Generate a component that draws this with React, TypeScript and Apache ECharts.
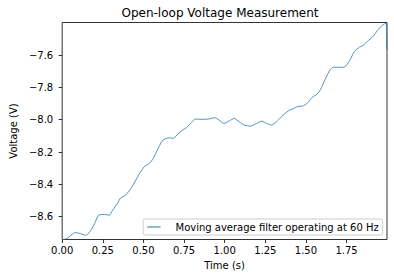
import React, { useEffect, useRef } from "react";
import * as echarts from "echarts";

const times = [
  0.0, 0.03, 0.08, 0.11, 0.144, 0.17, 0.2, 0.224, 0.26, 0.29, 0.31, 0.34, 0.36, 0.39,
  0.43, 0.47, 0.504, 0.536, 0.56, 0.59, 0.62, 0.66, 0.683, 0.716, 0.749, 0.76, 0.79,
  0.82, 0.86, 0.899, 0.939, 0.959, 0.995, 1.029, 1.059, 1.089, 1.119, 1.159, 1.189,
  1.229, 1.259, 1.289, 1.319, 1.359, 1.399, 1.419, 1.449, 1.479, 1.509, 1.539, 1.569,
  1.589, 1.619, 1.649, 1.669, 1.709, 1.739, 1.769, 1.799, 1.829, 1.853, 1.879, 1.909,
  1.939, 1.969, 1.993, 1.998,
];
const volts = [
  -8.742, -8.735, -8.698, -8.704, -8.715, -8.694, -8.642, -8.591, -8.586, -8.591, -8.56,
  -8.518, -8.484, -8.467, -8.415, -8.343, -8.292, -8.271, -8.24, -8.178, -8.126, -8.112,
  -8.116, -8.085, -8.058, -8.054, -8.023, -7.996, -7.998, -7.996, -7.988, -7.998, -8.023,
  -8.007, -7.992, -8.013, -8.033, -8.04, -8.027, -8.009, -8.023, -8.033, -8.013, -7.972,
  -7.941, -7.934, -7.918, -7.916, -7.897, -7.862, -7.841, -7.815, -7.749, -7.691, -7.676,
  -7.676, -7.674, -7.635, -7.577, -7.552, -7.54, -7.515, -7.49, -7.45, -7.416, -7.402,
  -7.567,
];
const xTicks = [0, 0.25, 0.5, 0.75, 1.0, 1.25, 1.5, 1.75];
const yTicks = [-8.6, -8.4, -8.2, -8.0, -7.8, -7.6];
const seriesName = "Moving average filter operating at 60 Hz";
const titleText = "Open-loop Voltage Measurement";

const FONT = "DejaVu Sans";

export default function App() {
  const ref = useRef<HTMLDivElement>(null);
  useEffect(() => {
    if (!ref.current) return;
    const chart = echarts.init(ref.current, undefined, { renderer: "svg" });
    const data = times.map((t, i) => [t, volts[i]]);
    chart.setOption({
      animation: false,
      backgroundColor: "#ffffff",
      grid: {
        left: 53.3,
        right: 7,
        top: 22.5,
        bottom: 38.5,
        show: true,
        borderColor: "#000000",
        borderWidth: 0.8,
        backgroundColor: "transparent",
      },
      graphic: [
        {
          type: "text",
          x: 220,
          y: 12.5,
          style: {
            text: titleText,
            font: `12px "${FONT}"`,
            fill: "#000000",
            textAlign: "center",
            textVerticalAlign: "middle",
          },
        },
      ],
      xAxis: {
        type: "value",
        min: 0,
        max: 1.999,
        name: "Time (s)",
        nameLocation: "middle",
        nameGap: 21,
        nameTextStyle: { fontFamily: FONT, fontSize: 10, color: "#000" },
        axisLine: { show: false },
        axisTick: {
          show: true,
          length: 3.5,
          inside: false,
          customValues: xTicks,
          lineStyle: { color: "#000", width: 0.8 },
        },
        axisLabel: {
          customValues: xTicks,
          margin: 6,
          fontFamily: FONT,
          fontSize: 10,
          color: "#000",
          formatter: (v: number) => v.toFixed(2),
        },
        splitLine: { show: false },
      },
      yAxis: {
        type: "value",
        min: -8.741,
        max: -7.399,
        name: "Voltage (V)",
        nameLocation: "middle",
        nameGap: 37,
        nameTextStyle: { fontFamily: FONT, fontSize: 10, color: "#000" },
        axisLine: { show: false },
        axisTick: {
          show: true,
          length: 3.5,
          inside: false,
          customValues: yTicks,
          lineStyle: { color: "#000", width: 0.8 },
        },
        axisLabel: {
          customValues: yTicks,
          margin: 9,
          fontFamily: FONT,
          fontSize: 10,
          color: "#000",
          formatter: (v: number) =>
            (v < 0 ? "\u2212" : "") + Math.abs(v).toFixed(1),
        },
        splitLine: { show: false },
      },
      legend: {
        show: true,
        right: 11.3,
        bottom: 43,
        orient: "vertical",
        backgroundColor: "#ffffff",
        borderColor: "#cccccc",
        borderWidth: 1,
        borderRadius: 2,
        padding: [3, 4, 3, 4],
        icon: "rect",
        itemWidth: 13.4,
        itemHeight: 1,
        textStyle: {
          fontFamily: FONT,
          fontSize: 10,
          color: "#000",
          padding: [0, 0, 0, 10],
        },
        data: [seriesName],
      },
      series: [
        {
          name: seriesName,
          type: "line",
          data,
          symbol: "none",
          showSymbol: false,
          smooth: 0.2,
          lineStyle: { color: "#1f77b4", width: 0.8 },
          itemStyle: { color: "#1f77b4" },
        },
      ],
    });
    return () => chart.dispose();
  }, []);
  return (
    <div
      ref={ref}
      style={{ position: "fixed", left: 0, top: 0, width: 394, height: 278 }}
    />
  );
}
